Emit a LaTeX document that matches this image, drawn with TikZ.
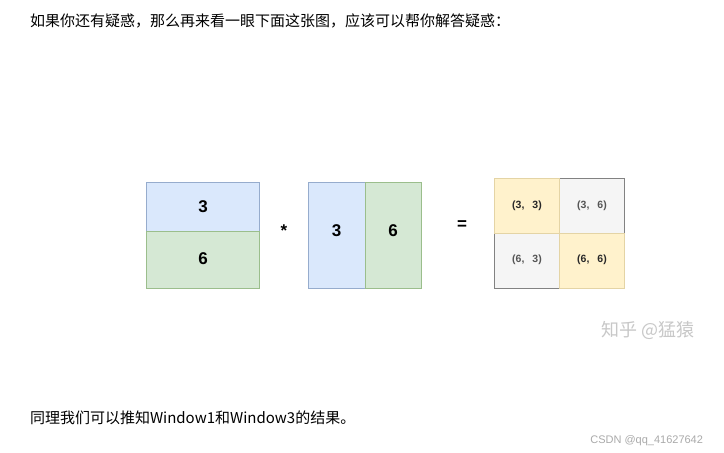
\documentclass[tikz,border=0pt]{standalone}
\usepackage{fontspec}
\usepackage{xcolor}
\usepackage{tikz}
\setmainfont{Liberation Sans}
\newfontfamily\cjkfont{Noto Sans CJK SC}
\definecolor{pdfcolor1}{RGB}{218,232,252}
\definecolor{pdfcolor2}{RGB}{150,172,205}
\definecolor{pdfcolor3}{RGB}{213,232,212}
\definecolor{pdfcolor4}{RGB}{155,190,140}
\definecolor{pdfcolor5}{RGB}{255,242,204}
\definecolor{pdfcolor6}{RGB}{228,212,165}
\definecolor{pdfcolor7}{RGB}{245,245,245}
\definecolor{pdfcolor8}{RGB}{130,130,130}
\definecolor{pdfcolor9}{RGB}{40,40,40}
\definecolor{pdfcolor10}{RGB}{200,200,200}
\definecolor{pdfcolor11}{RGB}{170,170,170}
\definecolor{pdfcolor12}{RGB}{85,85,85}
\newcommand{\pairgap}{\hspace{8bp}}

\begin{document}
\begin{tikzpicture}[x=1bp,y=-1bp,inner sep=0pt,outer sep=0pt,
  bluecell/.style={fill=pdfcolor1,draw=pdfcolor2,line width=0.8bp},
  greencell/.style={fill=pdfcolor3,draw=pdfcolor4,line width=0.8bp},
  yellowcell/.style={fill=pdfcolor5,draw=pdfcolor6,line width=0.8bp},
  greycell/.style={fill=pdfcolor7,draw=pdfcolor8,line width=0.8bp},
  digit/.style={anchor=center,font=\fontsize{17bp}{20bp}\selectfont\bfseries},
  pair/.style={anchor=center,text=pdfcolor9,font=\fontsize{10.5bp}{12bp}\selectfont\bfseries}]
  \useasboundingbox (0,0) rectangle (724,453);
  \fill[white] (0,0) rectangle (724,453);
  \node[anchor=west] (intro) at (30,20.5) {{\fontsize{15bp}{18bp}\cjkfont 如果你还有疑惑，那么再来看一眼下面这张图，应该可以帮你解答疑惑：}};
  % left matrix
  \draw[bluecell] (146.5,182.5) rectangle (259.5,231);
  \draw[greencell] (146.5,231) rectangle (259.5,288.5);
  \node[digit] (a3) at (203,206.5) {3};
  \node[digit] (a6) at (203,259) {6};
  \node[anchor=center] (times) at (284,231) {{\fontsize{17bp}{20bp}\selectfont\bfseries *}};
  % middle matrix
  \draw[bluecell] (308.5,182.5) rectangle (365,288.5);
  \draw[greencell] (365,182.5) rectangle (421.5,288.5);
  \node[digit] (b3) at (336.5,231) {3};
  \node[digit] (b6) at (393,231) {6};
  \node[anchor=center] (equals) at (462,225) {{\fontsize{17bp}{20bp}\selectfont\bfseries =}};
  % result matrix
  \draw[greycell] (559,178.5) rectangle (624.5,233);
  \draw[greycell] (494.5,233) rectangle (559,288.5);
  \draw[yellowcell] (494.5,178.5) rectangle (559,233);
  \draw[yellowcell] (559,233) rectangle (624.5,288.5);
  \node[pair] (c33) at (527,206) {(3,\pairgap 3)};
  \node[pair,text=pdfcolor12] (c36) at (592,206) {(3,\pairgap 6)};
  \node[pair,text=pdfcolor12] (c63) at (527,260) {(6,\pairgap 3)};
  \node[pair] (c66) at (592,260) {(6,\pairgap 6)};
  \node[anchor=center,text=pdfcolor10] (mark) at (648,330) {{\fontsize{18bp}{21bp}\cjkfont 知乎 @猛猿}};
  \node[anchor=west] (outro) at (30,418) {{\fontsize{15bp}{18bp}\cjkfont 同理我们可以推知Window1和Window3的结果。}};
  \node[anchor=east,text=pdfcolor11] (csdn) at (703,441) {{\fontsize{11bp}{13bp}\selectfont CSDN @qq\_41627642}};
\end{tikzpicture}
\end{document}
